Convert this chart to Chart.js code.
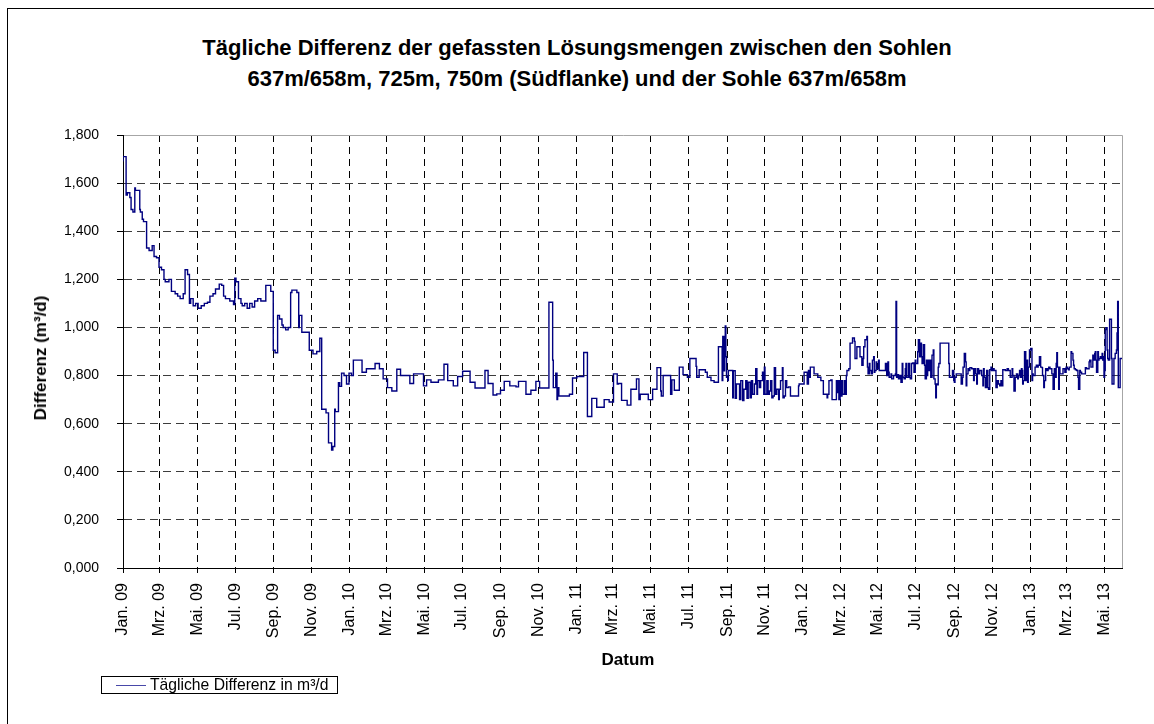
<!DOCTYPE html>
<html lang="de">
<head>
<meta charset="utf-8">
<title>Tägliche Differenz der gefassten Lösungsmengen</title>
<script src="https://cdn.jsdelivr.net/npm/chart.js@4.4.1/dist/chart.umd.min.js"></script>
<style>
  html, body { margin: 0; padding: 0; background: #fff; }
  body { width: 1154px; height: 724px; position: relative; overflow: hidden;
         font-family: "Liberation Sans", Arial, sans-serif; color: #000; }
  #frame { position: absolute; left: 7px; top: 8px; width: 1300px; height: 900px;
           border: 1px solid #000; box-sizing: border-box; }
  #title { position: absolute; left: 0; top: 32px; width: 1154px; text-align: center;
           font-weight: bold; font-size: 22px; line-height: 31px; }
  #chart { position: absolute; left: 0; top: 0; }
  .axis-title { position: absolute; font-weight: bold; font-size: 17px; white-space: nowrap;
                transform: translate(-50%, -50%); }
  #ytitle { left: 41px; top: 358px; transform: translate(-50%, -50%) rotate(-90deg); }
  #xtitle { left: 628px; top: 660px; }
  #legend { position: absolute; left: 101px; top: 676px; width: 237px; height: 18px;
            border: 1px solid #000; box-sizing: border-box; font-size: 15.7px; line-height: 16px; }
  #legend .swatch { position: absolute; left: 14px; top: 8px; width: 30px; height: 1px; background: #4848a8; }
  #legend .label { position: absolute; left: 48px; top: 0px; white-space: nowrap; }
</style>
</head>
<body>
<div id="frame"></div>
<div id="title">Tägliche Differenz der gefassten Lösungsmengen zwischen den Sohlen<br>637m/658m, 725m, 750m (Südflanke) und der Sohle 637m/658m</div>
<canvas id="chart" width="1154" height="724"></canvas>
<div class="axis-title" id="ytitle">Differenz (m³/d)</div>
<div class="axis-title" id="xtitle">Datum</div>
<div id="legend"><div class="swatch"></div><div class="label">Tägliche Differenz in m³/d</div></div>
<script>
  const seriesName = 'Tägliche Differenz in m³/d';

  // Achsenbeschriftung (jeweils der 1. eines ungeraden Monats)
  const tickLabels = [
    'Jan. 09', 'Mrz. 09', 'Mai. 09', 'Jul. 09', 'Sep. 09', 'Nov. 09',
    'Jan. 10', 'Mrz. 10', 'Mai. 10', 'Jul. 10', 'Sep. 10', 'Nov. 10',
    'Jan. 11', 'Mrz. 11', 'Mai. 11', 'Jul. 11', 'Sep. 11', 'Nov. 11',
    'Jan. 12', 'Mrz. 12', 'Mai. 12', 'Jul. 12', 'Sep. 12', 'Nov. 12',
    'Jan. 13', 'Mrz. 13', 'Mai. 13'
  ];
  const lastDay = 1609; // Tage seit 01.01.2009 (Ende Mai 2013)

  // Tage seit 01.01.2009 (Beginn eines Wertes, Treppenlinie)
  const tage = [
    0, 5, 7, 11, 13, 16, 19, 20, 27, 28, 31, 33, 38, 42, 47, 50, 54, 58, 62, 66,
    68, 74, 78, 84, 88, 92, 97, 100, 104, 107, 109, 113, 117, 121, 126, 131, 136, 140, 145, 149,
    155, 159, 162, 165, 172, 178, 180, 182, 186, 190, 192, 196, 200, 204, 208, 212, 217, 222, 230, 238,
    242, 245, 249, 252, 256, 258, 262, 266, 270, 272, 280, 283, 284, 288, 300, 306, 312, 317, 320, 327,
    331, 336, 338, 341, 342, 347, 349, 352, 356, 360, 364, 368, 371, 385, 392, 406, 413, 419, 426, 433,
    441, 447, 462, 468, 484, 489, 496, 508, 517, 523, 532, 539, 547, 559, 567, 583, 588, 596, 602, 608,
    614, 623, 633, 637, 649, 657, 665, 671, 686, 692, 693, 697, 699, 700, 702, 719, 724, 731, 742, 748,
    755, 763, 775, 783, 790, 796, 798, 803, 812, 818, 827, 831, 833, 846, 853, 860, 866, 867, 870, 882,
    884, 888, 896, 902, 909, 913, 923, 924, 928, 938, 941, 947, 952, 959, 965, 966, 968, 969, 970, 971,
    972, 974, 975, 982, 983, 986, 988, 993, 995, 998, 1000, 1003, 1005, 1007, 1010, 1012, 1014, 1017, 1019, 1021,
    1022, 1025, 1027, 1030, 1032, 1033, 1034, 1037, 1039, 1041, 1043, 1045, 1047, 1049, 1051, 1053, 1056, 1057, 1059, 1062,
    1063, 1065, 1067, 1069, 1072, 1075, 1088, 1089, 1097, 1102, 1104, 1106, 1107, 1113, 1119, 1124, 1128, 1134, 1135, 1137,
    1140, 1142, 1149, 1150, 1151, 1153, 1155, 1156, 1158, 1159, 1162, 1163, 1165, 1166, 1169, 1171, 1175, 1178, 1179, 1182,
    1187, 1190, 1192, 1193, 1195, 1198, 1199, 1200, 1202, 1203, 1205, 1207, 1209, 1210, 1211, 1213, 1214, 1217, 1218, 1228,
    1230, 1232, 1233, 1234, 1237, 1238, 1241, 1244, 1245, 1246, 1247, 1249, 1251, 1253, 1255, 1256, 1258, 1260, 1261, 1262,
    1265, 1267, 1268, 1270, 1272, 1274, 1276, 1277, 1280, 1281, 1283, 1284, 1286, 1287, 1289, 1291, 1292, 1294, 1295, 1296,
    1298, 1299, 1301, 1303, 1305, 1306, 1308, 1309, 1310, 1311, 1313, 1314, 1316, 1330, 1331, 1336, 1338, 1339, 1340, 1342,
    1350, 1352, 1353, 1355, 1357, 1358, 1359, 1361, 1362, 1364, 1367, 1370, 1371, 1373, 1375, 1376, 1378, 1380, 1383, 1385,
    1386, 1387, 1389, 1391, 1393, 1394, 1396, 1398, 1399, 1401, 1403, 1406, 1408, 1410, 1412, 1414, 1415, 1417, 1421, 1424,
    1426, 1429, 1432, 1433, 1435, 1437, 1439, 1441, 1442, 1444, 1445, 1447, 1448, 1449, 1450, 1452, 1454, 1455, 1457, 1458,
    1460, 1462, 1464, 1465, 1466, 1469, 1471, 1473, 1474, 1476, 1478, 1480, 1481, 1483, 1484, 1486, 1488, 1490, 1491, 1493,
    1496, 1498, 1500, 1501, 1503, 1504, 1505, 1507, 1508, 1509, 1514, 1517, 1519, 1521, 1523, 1524, 1527, 1528, 1530, 1531,
    1532, 1534, 1536, 1538, 1539, 1541, 1542, 1544, 1550, 1552, 1556, 1557, 1559, 1562, 1563, 1565, 1566, 1567, 1568, 1570,
    1571, 1572, 1574, 1575, 1577, 1578, 1579, 1580, 1581, 1582, 1583, 1585, 1586, 1587, 1589, 1590, 1592, 1593, 1596, 1598,
    1600, 1601, 1602, 1603, 1604, 1606, 1607, 1609
  ];

  // Tägliche Differenz in m³/d
  const werte = [
    1.69, 1.71, 1.55, 1.56, 1.54, 1.49, 1.48, 1.58, 1.57, 1.49, 1.48, 1.45, 1.44, 1.33, 1.32, 1.34, 1.295, 1.29, 1.25, 1.24,
    1.20, 1.19, 1.20, 1.15, 1.14, 1.13, 1.12, 1.14, 1.24, 1.22, 1.10, 1.12, 1.09, 1.10, 1.08, 1.09, 1.10, 1.105, 1.13, 1.14,
    1.16, 1.18, 1.175, 1.13, 1.12, 1.11, 1.095, 1.205, 1.19, 1.12, 1.10, 1.09, 1.10, 1.08, 1.10, 1.085, 1.11, 1.12, 1.11, 1.175,
    1.15, 0.905, 0.895, 1.05, 1.035, 1.01, 1.00, 0.99, 1.00, 1.145, 1.155, 1.145, 1.00, 1.05, 0.98, 0.905, 0.89, 0.90, 0.955, 0.66,
    0.645, 0.52, 0.49, 0.505, 0.66, 0.65, 0.77, 0.755, 0.81, 0.80, 0.765, 0.81, 0.80, 0.864, 0.814, 0.828, 0.85, 0.828, 0.786, 0.75,
    0.736, 0.826, 0.80, 0.767, 0.807, 0.757, 0.782, 0.772, 0.782, 0.847, 0.779, 0.757, 0.796, 0.818, 0.772, 0.748, 0.821, 0.767, 0.719, 0.724,
    0.739, 0.776, 0.757, 0.753, 0.776, 0.722, 0.739, 0.776, 0.748, 1.105, 0.864, 0.75, 0.81, 0.70, 0.75, 0.715, 0.722, 0.79, 0.796, 0.896,
    0.63, 0.705, 0.668, 0.70, 0.69, 0.807, 0.765, 0.767, 0.697, 0.677, 0.743, 0.786, 0.70, 0.722, 0.70, 0.743, 0.833, 0.736, 0.715, 0.80,
    0.722, 0.782, 0.739, 0.835, 0.804, 0.793, 0.871, 0.838, 0.793, 0.824, 0.814, 0.793, 0.779, 0.772, 0.92, 0.779, 0.963, 0.82, 0.935, 1.006,
    0.878, 0.793, 0.779, 0.821, 0.708, 0.82, 0.705, 0.765, 0.70, 0.779, 0.696, 0.743, 0.779, 0.705, 0.772, 0.708, 0.779, 0.722, 0.765, 0.828,
    0.722, 0.779, 0.75, 0.779, 0.814, 0.722, 0.835, 0.722, 0.779, 0.722, 0.736, 0.779, 0.708, 0.715, 0.833, 0.722, 0.743, 0.70, 0.743, 0.779,
    0.833, 0.708, 0.715, 0.779, 0.75, 0.753, 0.715, 0.757, 0.765, 0.814, 0.765, 0.821, 0.793, 0.835, 0.807, 0.793, 0.779, 0.722, 0.708, 0.722,
    0.779, 0.782, 0.70, 0.779, 0.729, 0.779, 0.70, 0.779, 0.715, 0.779, 0.722, 0.779, 0.722, 0.80, 0.821, 0.828, 0.935, 0.956, 0.942, 0.871,
    0.92, 0.878, 0.843, 0.871, 0.92, 0.949, 0.963, 0.835, 0.807, 0.85, 0.821, 0.807, 0.864, 0.878, 0.814, 0.821, 0.857, 0.828, 0.864, 0.821,
    0.85, 0.80, 0.857, 0.814, 0.793, 0.807, 0.786, 0.80, 0.807, 1.108, 0.793, 0.804, 0.786, 0.80, 0.772, 0.85, 0.793, 0.786, 0.828, 0.85,
    0.793, 0.85, 0.793, 0.786, 0.85, 0.852, 0.814, 0.864, 0.85, 0.899, 0.949, 0.878, 0.935, 0.878, 0.85, 0.928, 0.843, 0.786, 0.864, 0.80,
    0.864, 0.821, 0.864, 0.793, 0.885, 0.906, 0.786, 0.765, 0.708, 0.765, 0.762, 0.835, 0.85, 0.935, 0.85, 0.793, 0.821, 0.779, 0.772, 0.793,
    0.807, 0.765, 0.793, 0.835, 0.892, 0.857, 0.757, 0.807, 0.828, 0.821, 0.833, 0.828, 0.779, 0.828, 0.807, 0.765, 0.828, 0.807, 0.821, 0.80,
    0.757, 0.828, 0.793, 0.75, 0.821, 0.75, 0.743, 0.824, 0.835, 0.821, 0.828, 0.821, 0.75, 0.779, 0.765, 0.757, 0.779, 0.757, 0.824, 0.821,
    0.828, 0.821, 0.793, 0.828, 0.80, 0.736, 0.793, 0.807, 0.786, 0.80, 0.821, 0.793, 0.828, 0.821, 0.765, 0.779, 0.899, 0.779, 0.864, 0.772,
    0.835, 0.906, 0.913, 0.779, 0.807, 0.80, 0.835, 0.843, 0.835, 0.843, 0.878, 0.835, 0.833, 0.80, 0.75, 0.779, 0.828, 0.821, 0.828, 0.835,
    0.828, 0.807, 0.743, 0.828, 0.793, 0.85, 0.895, 0.835, 0.743, 0.835, 0.807, 0.828, 0.814, 0.835, 0.828, 0.824, 0.835, 0.899, 0.892, 0.864,
    0.843, 0.828, 0.824, 0.821, 0.793, 0.743, 0.821, 0.814, 0.807, 0.833, 0.828, 0.857, 0.864, 0.835, 0.885, 0.864, 0.892, 0.899, 0.864, 0.814,
    0.899, 0.864, 0.871, 0.878, 0.871, 0.892, 0.864, 0.878, 0.793, 0.821, 0.991, 0.999, 0.906, 0.871, 0.864, 1.034, 1.034, 0.871, 0.765, 0.871,
    0.892, 0.906, 0.977, 1.108, 0.75, 0.75, 0.871, 0.871
  ];

  // Tick-Positionen: 1. Januar, März, Mai, ... in Tagen seit 01.01.2009
  const day0 = Date.UTC(2009, 0, 1);
  const tickDays = tickLabels.map((_, i) => (Date.UTC(2009 + Math.floor(i / 6), (i % 6) * 2, 1) - day0) / 86400000);

  const fontFamily = '"Liberation Sans", Arial, sans-serif';

  const plotFrame = {
    id: 'plotFrame',
    afterDraw(chart) {
      const { ctx, chartArea: a } = chart;
      ctx.save();
      ctx.strokeStyle = '#a6a6a6';
      ctx.lineWidth = 1;
      ctx.beginPath();
      ctx.moveTo(Math.round(a.left) + 1, Math.round(a.top) + 0.5);
      ctx.lineTo(Math.round(a.right) + 0.5, Math.round(a.top) + 0.5);
      ctx.lineTo(Math.round(a.right) + 0.5, Math.round(a.bottom));
      ctx.stroke();
      ctx.restore();
    }
  };

  new Chart(document.getElementById('chart').getContext('2d'), {
    type: 'line',
    data: {
      datasets: [{
        label: seriesName,
        data: tage.map((d, i) => ({ x: d, y: werte[i] })),
        borderColor: '#000080',
        borderWidth: 1.4,
        pointRadius: 0,
        stepped: 'after',
        fill: false
      }]
    },
    options: {
      responsive: false,
      animation: false,
      devicePixelRatio: 1,
      layout: { padding: { left: 0, top: 135, right: 32, bottom: 0 } },
      plugins: { legend: { display: false }, title: { display: false }, tooltip: { enabled: false } },
      scales: {
        x: {
          type: 'linear',
          min: 0,
          max: lastDay,
          afterBuildTicks: s => { s.ticks = tickDays.map(v => ({ value: v })); },
          afterFit: s => { s.height = 156; },
          ticks: {
            autoSkip: false, minRotation: 90, maxRotation: 90, padding: 10, color: '#000',
            font: { family: fontFamily, size: 16 },
            callback: (v, i) => tickLabels[i]
          },
          grid: { color: '#000', lineWidth: 1, tickLength: 5, tickColor: '#000' },
          border: { display: true, color: '#000', width: 1, dash: [7, 5] }
        },
        y: {
          min: 0,
          max: 1.8,
          afterFit: s => { s.width = 123; },
          ticks: {
            stepSize: 0.2, padding: 18, color: '#000',
            font: { family: fontFamily, size: 14 },
            callback: v => v.toFixed(3).replace('.', ',')
          },
          grid: {
            color: c => (c.tick && c.tick.value > 1.79) ? 'rgba(0,0,0,0)' : '#3c3c3c',
            lineWidth: 1, tickLength: 6, tickColor: '#000'
          },
          border: { display: true, color: '#000', width: 1, dash: [8, 5] }
        }
      }
    },
    plugins: [plotFrame]
  });
</script>
</body>
</html>
